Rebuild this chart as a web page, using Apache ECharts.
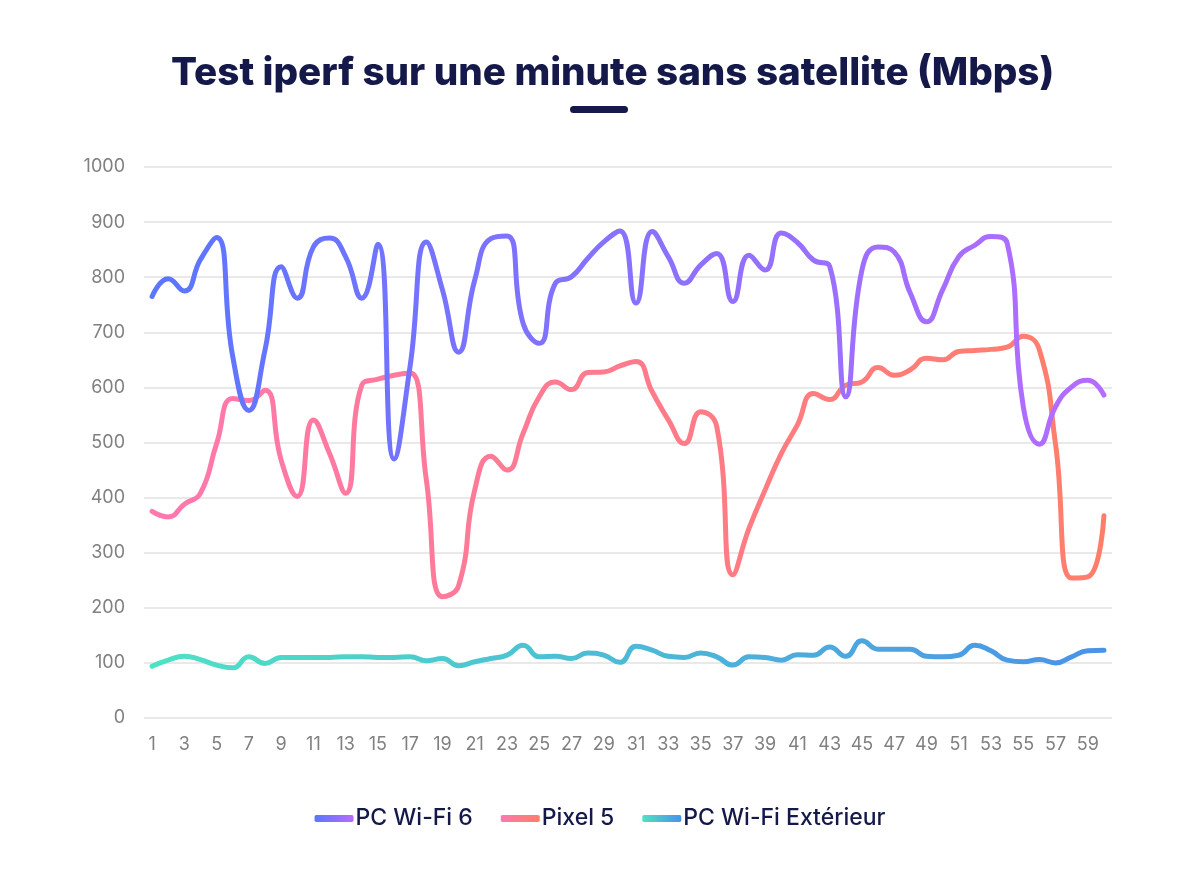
<!DOCTYPE html>
<html>
<head>
<meta charset="utf-8">
<script src="https://cdn.jsdelivr.net/npm/echarts@6/dist/echarts.min.js"></script>
<style>
html,body{margin:0;padding:0;background:#fff;}
#chart{width:1200px;height:875px;}
</style>
</head>
<body>
<div id="chart"></div>
<script>
const categories = Array.from({length: 60}, (_, i) => String(i + 1));

const wifi6 = [765, 797, 775, 832, 872, 656, 558, 668, 819, 762,
               855, 871, 837, 762, 860, 470, 640, 864, 777, 664,
               795, 870, 875, 716, 680, 789, 801, 834, 864, 884,
               753, 883, 837, 789, 822, 843, 756, 840, 813, 880,
               863, 831, 820, 583, 813, 855, 846, 771, 719, 777,
               837, 858, 874, 862, 565, 497, 565, 601, 613, 586];

const pixel5 = [375, 365, 388, 408, 498, 580, 576, 595, 468, 402,
                541, 480, 408, 604, 615, 622, 626, 432, 220, 240,
                414, 475, 450, 517, 583, 610, 596, 627, 628, 639,
                647, 592, 541, 498, 556, 529, 260, 344, 414, 480,
                532, 589, 578, 604, 610, 636, 622, 632, 653, 650,
                665, 667, 669, 673, 693, 668, 497, 254, 256, 367];

const exterieur = [94, 105, 112, 106, 96, 91, 111, 99, 110, 110,
                   110, 110, 111, 111, 110, 110, 111, 104, 108, 95,
                   102, 108, 114, 132, 111, 112, 108, 118, 114, 101,
                   130, 123, 112, 110, 118, 111, 96, 111, 110, 105,
                   115, 114, 129, 112, 140, 125, 125, 125, 112, 111,
                   114, 132, 122, 105, 102, 106, 100, 111, 122, 123];

const seriesNames = ['PC Wi-Fi 6', 'Pixel 5', 'PC Wi-Fi Extérieur'];

function grad(c1, c2) {
  return new echarts.graphic.LinearGradient(0, 0, 1, 0, [
    {offset: 0, color: c1}, {offset: 1, color: c2}
  ]);
}

const colors = [
  ['#5B76FF', '#B56CFF'],
  ['#FF78AE', '#FF7E6A'],
  ['#4EE2C4', '#4A92E8']
];
const datas = [wifi6, pixel5, exterieur];

const chart = echarts.init(document.getElementById('chart'));
const navy = '#14194A';

chart.setOption({
  backgroundColor: '#fff',
  animation: false,
  title: {
    text: 'Test iperf sur une minute sans satellite (Mbps)',
    left: 166,
    top: 49,
    textStyle: {
      fontFamily: 'Inter',
      fontWeight: 800,
      fontSize: 38.6,
      color: navy
    }
  },
  graphic: [{
    type: 'rect',
    left: 570,
    top: 106,
    shape: {width: 58, height: 7, r: 3.5},
    style: {fill: navy}
  }],
  legend: {
    bottom: 40,
    left: 'center',
    icon: 'roundRect',
    itemWidth: 39,
    itemHeight: 7,
    itemGap: 28,
    textStyle: {
      fontFamily: 'Inter',
      fontSize: 23,
      fontWeight: 500,
      color: navy,
      padding: [0, 0, 0, -3]
    },
    data: seriesNames
  },
  grid: {
    left: 144,
    right: 88,
    top: 167,
    bottom: 157
  },
  xAxis: {
    type: 'category',
    data: categories,
    boundaryGap: true,
    axisLine: {show: false},
    axisTick: {show: false},
    axisLabel: {
      interval: 1,
      color: '#808080',
      fontFamily: 'Inter',
      fontSize: 18,
      margin: 18
    }
  },
  yAxis: {
    type: 'value',
    min: 0,
    max: 1000,
    interval: 100,
    axisLine: {show: false},
    axisTick: {show: false},
    axisLabel: {
      color: '#808080',
      fontFamily: 'Inter',
      fontSize: 18,
      margin: 19,
      formatter: v => String(v)
    },
    splitLine: {lineStyle: {color: '#e2e2e2', width: 1.5}}
  },
  series: seriesNames.map((name, i) => ({
    name: name,
    type: 'line',
    data: datas[i],
    smooth: 0.5,
    showSymbol: false,
    symbol: 'none',
    itemStyle: {color: grad(colors[i][0], colors[i][1])},
    lineStyle: {width: 5, color: grad(colors[i][0], colors[i][1]), cap: 'round', join: 'round'},
    z: 3 - i
  }))
});
</script>
</body>
</html>
